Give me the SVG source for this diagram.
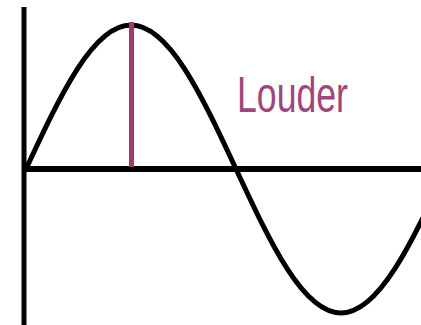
<svg xmlns="http://www.w3.org/2000/svg" width="421" height="325" viewBox="0 0 421 325">
<style>
.axis{stroke:#000;stroke-width:5;fill:none}
.wave{stroke:#000;stroke-width:5;fill:none;stroke-linecap:round}
.marker{stroke:#9e3a6e;stroke-width:5}
.label{font-family:"Liberation Sans",Arial,sans-serif;font-size:50px;fill:#a0467a}
</style>
<rect width="421" height="325" fill="#fff"/>
<g id="axes">
<line class="axis" x1="24" y1="7" x2="24" y2="325"/>
<line class="axis" x1="22" y1="169" x2="421" y2="169" style="stroke-width:6"/>
</g>
<g id="wave">
<path class="wave" d="M26,169 C60.3,95.2 93.0,25 131,25 C169,25 201.7,95.2 236,169 C270.3,242.8 303,313 341,313 C379,313 411.7,242.8 446,169"/>
</g>
<g id="amplitude">
<line class="marker" x1="131.5" y1="22" x2="131.5" y2="167"/>
</g>
<g id="label">
<text class="label" x="237" y="112" textLength="111" lengthAdjust="spacingAndGlyphs">Louder</text>
</g>
</svg>
